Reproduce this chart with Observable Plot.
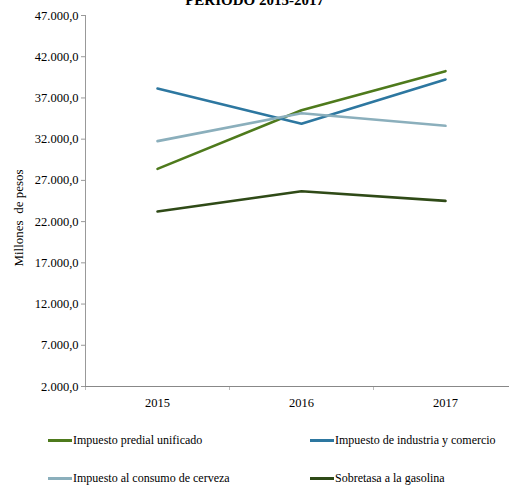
<!DOCTYPE html>
<html>
<head>
<meta charset="utf-8">
<script src="https://cdn.jsdelivr.net/npm/d3@7"></script>
<script src="https://cdn.jsdelivr.net/npm/@observablehq/plot@0.6"></script>
</head>
<body style="margin:0;background:#fff;font-family:'Liberation Serif',serif;">
<div id="wrap" style="position:relative;width:509px;height:489px;overflow:hidden;font-family:'Liberation Serif',serif;">
  <div id="chart" style="position:absolute;left:0;top:0;"></div>
  <div id="title" style="position:absolute;left:0;width:509px;top:-8px;text-align:center;font-weight:bold;font-size:15px;color:#000;font-family:'Liberation Serif',serif;"></div>
  <div id="ylabel" style="position:absolute;left:19px;top:218px;transform:translate(-50%,-50%) rotate(-90deg);white-space:pre;font-size:13px;color:#000;font-family:'Liberation Serif',serif;"></div>
</div>
<script>
const title = "PERIODO 2015-2017";
const yLabel = "Millones  de pesos";
const years = [2015, 2016, 2017];
const seriesNames = [
  "Impuesto predial unificado",
  "Impuesto de industria y comercio",
  "Impuesto al consumo de cerveza",
  "Sobretasa a la gasolina"
];
const predial = [28400, 35500, 40250];
const industria = [38150, 33870, 39240];
const cerveza = [31760, 35150, 33620];
const gasolina = [23230, 25690, 24520];
const yTicks = [2000, 7000, 12000, 17000, 22000, 27000, 32000, 37000, 42000, 47000];
const colors = ["#4e7a1c", "#2d77a0", "#8bafbc", "#2f4a17"];

const FONT = "'Liberation Serif', serif";

const allSeries = [predial, industria, cerveza, gasolina];
const data = [];
allSeries.forEach((vals, i) => vals.forEach((v, j) => data.push({serie: seriesNames[i], year: years[j], value: v})));

const locale = d3.formatLocale({decimal: ",", thousands: ".", grouping: [3], currency: ["$", ""]});
const fmt = locale.format(",.1f");

const x0 = years[0] - 0.5, x1 = years[years.length - 1] + 0.5;
const boundaries = years.map(y => y - 0.5);

document.getElementById("title").textContent = title;
document.getElementById("ylabel").textContent = yLabel;

const chart = Plot.plot({
  width: 509,
  height: 410,
  marginLeft: 85,
  marginTop: 15,
  marginBottom: 24,
  marginRight: 0,
  x: {type: "linear", domain: [x0, x1], range: [85, 517]},
  y: {domain: [yTicks[0], yTicks[yTicks.length - 1]]},
  color: {domain: seriesNames, range: colors},
  marks: [
    Plot.axisY({ticks: yTicks, tickFormat: fmt, tickSize: 4, tickPadding: 3, stroke: "#999", fill: "#000", label: null}),
    Plot.axisX({ticks: boundaries, tickSize: 4, tickFormat: () => "", stroke: "#bbb", label: null}),
    Plot.axisX({ticks: years, tickSize: 0, tickPadding: 12, tickFormat: d => String(d), fill: "#000", label: null}),
    Plot.ruleX([x0], {y1: yTicks[0], y2: yTicks[yTicks.length - 1], stroke: "#999"}),
    Plot.ruleY([yTicks[0]], {x1: x0, x2: x1, stroke: "#888"}),
    Plot.line(data, {x: "year", y: "value", z: "serie", stroke: "serie", strokeWidth: 2.6})
  ]
});
chart.style.fontFamily = FONT;
chart.style.fontSize = "12.5px";
chart.style.background = "transparent";
chart.querySelectorAll("text").forEach(t => { t.style.fontFamily = FONT; t.style.fontSize = "12.5px"; });
document.getElementById("chart").appendChild(chart);

const legPos = [[48, 433], [310, 433], [48, 471], [310, 471]];
const wrap = document.getElementById("wrap");
seriesNames.forEach((n, i) => {
  const d = document.createElement("div");
  Object.assign(d.style, {position: "absolute", left: legPos[i][0] + "px", top: legPos[i][1] + "px",
    fontSize: "12px", color: "#000", whiteSpace: "nowrap", lineHeight: "14px", fontFamily: FONT});
  const s = document.createElement("span");
  Object.assign(s.style, {display: "inline-block", width: "24px", height: "3px", verticalAlign: "middle",
    marginRight: "1px", position: "relative", top: "-1px", background: colors[i]});
  d.appendChild(s);
  d.appendChild(document.createTextNode(n));
  wrap.appendChild(d);
});
</script>
</body>
</html>
